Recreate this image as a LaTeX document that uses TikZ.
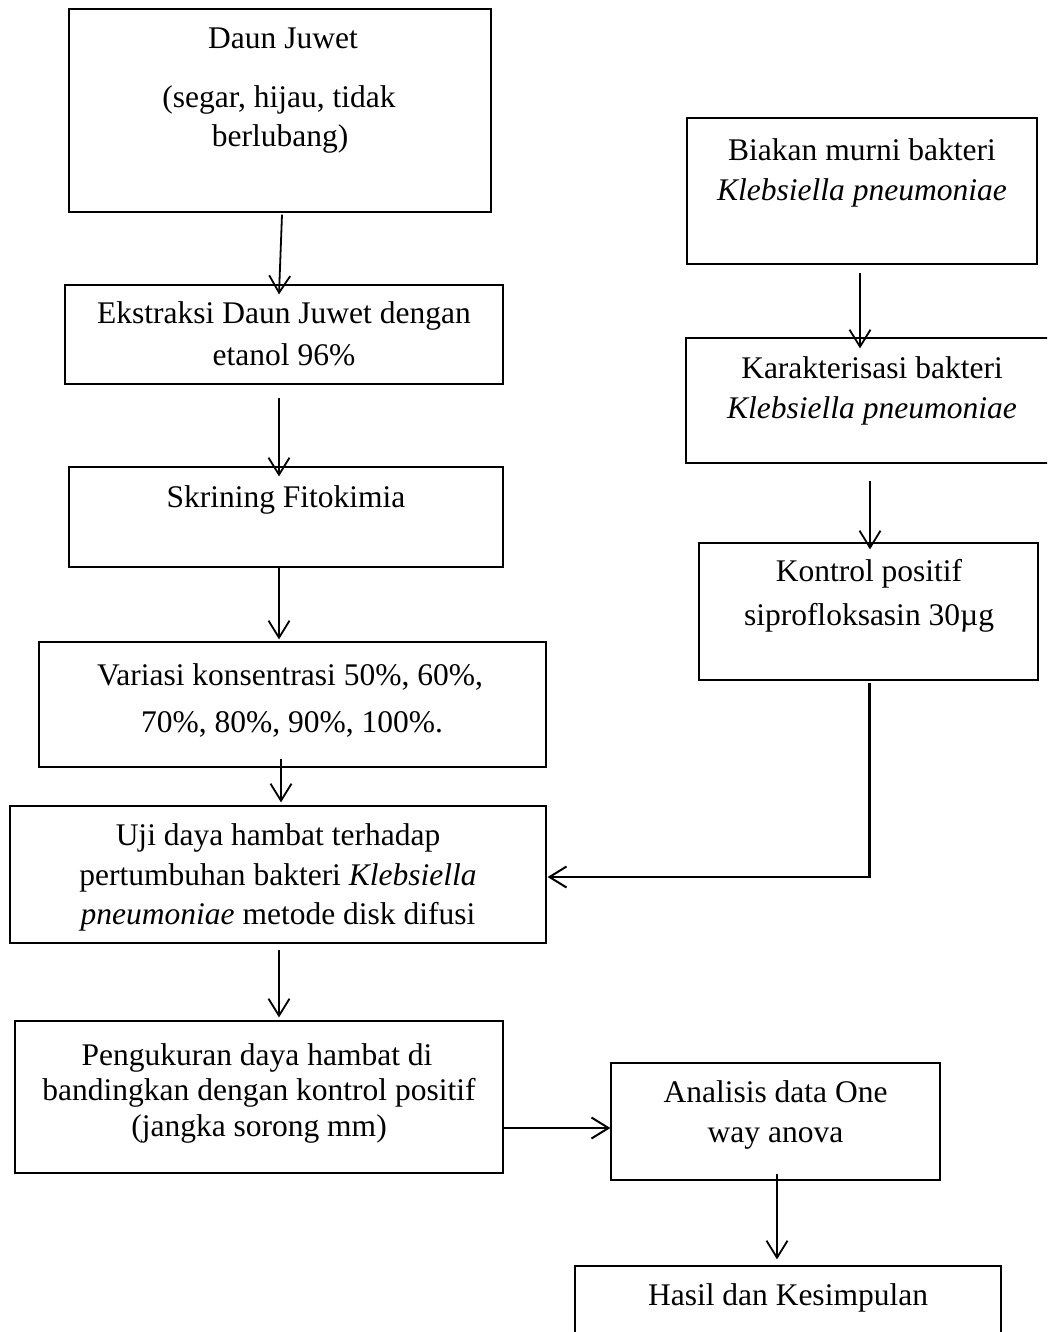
\documentclass[tikz,border=0pt]{standalone}
\usepackage{fontspec}
\setmainfont{Liberation Serif}
\usetikzlibrary{arrows.meta}
\begin{document}
\begin{tikzpicture}[x=1pt,y=-1pt,
  box/.style={draw=black,line width=1.2pt,inner sep=0pt,fill=none},
  txt/.style={inner sep=0pt,anchor=base,font=\fontsize{31.5pt}{40pt}\selectfont},
  arr/.style={line width=1.8pt,-{Straight Barb[length=17pt,width=21pt,line width=1.8pt]}},
  thickarr/.style={line width=2.6pt,-{Straight Barb[length=17pt,width=21pt,line width=2pt]}}]
\useasboundingbox (0,0) rectangle (1047,1332);
\clip (0,0) rectangle (1047,1332);
\fill[white] (0,0) rectangle (1047,1332);
% boxes
\node[box,minimum width=422pt,minimum height=203pt] (b1) at (280,110.5) {};
\node[box,minimum width=438pt,minimum height=99pt] (b2) at (284,334.5) {};
\node[box,minimum width=434pt,minimum height=100pt] (b3) at (286,517) {};
\node[box,minimum width=507pt,minimum height=125pt] (b4) at (292.5,704.5) {};
\node[box,minimum width=536pt,minimum height=137pt] (b5) at (278,874.5) {};
\node[box,minimum width=488pt,minimum height=152pt] (b6) at (259,1097) {};
\node[box,minimum width=329pt,minimum height=117pt] (b7) at (775.5,1121.5) {};
\node[box,minimum width=426pt,minimum height=140pt] (b8) at (788,1336) {};
\node[box,minimum width=350pt,minimum height=146pt] (b9) at (862,191) {};
\node[box,minimum width=372pt,minimum height=125pt] (b10) at (872,400.5) {};
\node[box,minimum width=339pt,minimum height=137pt] (b11) at (868.5,611.5) {};
% texts (one node per printed line, placed on its baseline)
\node[txt] (t1a) at (283,49) {Daun Juwet};
\node[txt] (t1b) at (279,108) {(segar, hijau, tidak};
\node[txt] (t1c) at (280,147) {berlubang)};
\node[txt] (t2a) at (284,323) {Ekstraksi Daun Juwet dengan};
\node[txt] (t2b) at (284,365) {etanol 96\%};
\node[txt] (t3) at (286,507) {Skrining Fitokimia};
\node[txt] (t4a) at (290,685) {Variasi konsentrasi 50\%, 60\%,};
\node[txt] (t4b) at (292,732) {70\%, 80\%, 90\%, 100\%.};
\node[txt] (t5a) at (278,845) {Uji daya hambat terhadap};
\node[txt] (t5b) at (278,885) {pertumbuhan bakteri \textit{Klebsiella}};
\node[txt] (t5c) at (278,924) {\textit{pneumoniae} metode disk difusi};
\node[txt] (t6a) at (257,1065) {Pengukuran daya hambat di};
\node[txt] (t6b) at (259,1100) {bandingkan dengan kontrol positif};
\node[txt] (t6c) at (259,1136) {(jangka sorong mm)};
\node[txt] (t7a) at (775.5,1102) {Analisis data One};
\node[txt] (t7b) at (775.5,1142) {way anova};
\node[txt] (t8) at (788,1305) {Hasil dan Kesimpulan};
\node[txt] (t9a) at (862,161) {Biakan murni bakteri};
\node[txt] (t9b) at (862,201) {\textit{Klebsiella pneumoniae}};
\node[txt] (t10a) at (872,378) {Karakterisasi bakteri};
\node[txt] (t10b) at (872,418) {\textit{Klebsiella pneumoniae}};
\node[txt] (t11a) at (869,581) {Kontrol positif};
\node[txt] (t11b) at (869,625) {siprofloksasin 30µg};
% connectors
\draw[arr] ([shift={(2,2)}]b1.south) -- ([shift={(-5,10)}]b2.north);
\draw[arr] ([shift={(-5,13)}]b2.south) -- ([shift={(-7,10)}]b3.north);
\draw[arr] ([shift={(-7,0)}]b3.south) -- ([shift={(-13.5,-2)}]b4.north);
\draw[arr] ([shift={(-11.5,-9)}]b4.south) -- ([shift={(3,-3)}]b5.north);
\draw[arr] ([shift={(1,6)}]b5.south) -- ([shift={(20,-3)}]b6.north);
\draw[thickarr] ([shift={(0,31)}]b6.east) -- ([shift={(0,6.5)}]b7.west);
\draw[arr] ([shift={(1.5,-7)}]b7.south) -- ([shift={(-11,-6)}]b8.north);
\draw[arr] ([shift={(-2,8)}]b9.south) -- ([shift={(-12,11)}]b10.north);
\draw[arr] ([shift={(-2,17)}]b10.south) -- ([shift={(1.5,7)}]b11.north);
\draw[line width=2.2pt,-{Straight Barb[length=17pt,width=21pt,line width=2pt]}] ([shift={(1,2)}]b11.south) |- ([shift={(1,2.5)}]b5.east);
\end{tikzpicture}
\end{document}
